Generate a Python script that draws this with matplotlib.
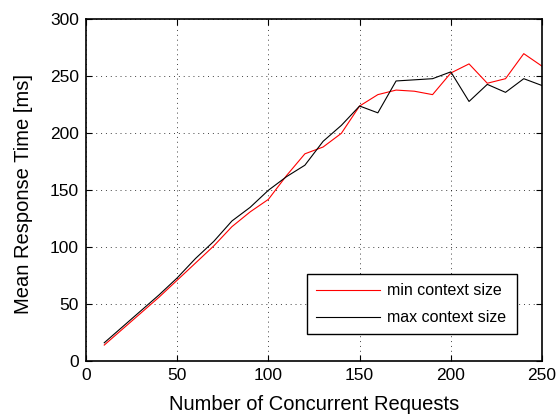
import matplotlib
matplotlib.use("Agg")
import matplotlib.pyplot as plt

plt.rcParams['font.family'] = ['Liberation Sans', 'DejaVu Sans']

requests = [10, 20, 30, 40, 50, 60, 70, 80, 90, 100, 110, 120, 130,
            140, 150, 160, 170, 180, 190, 200, 210, 220, 230, 240, 250]
min_ctx = [14, 28, 42, 56, 71, 86, 101, 118, 131, 142, 163, 182, 188,
           200, 224, 234, 238, 237, 234, 253, 261, 244, 248, 270, 259]
max_ctx = [16, 30, 44, 58, 73, 90, 105, 123, 135, 150, 162, 172, 193,
           207, 224, 218, 246, 247, 248, 254, 228, 243, 236, 248, 242]

xticks = [0, 50, 100, 150, 200, 250]
yticks = [0, 50, 100, 150, 200, 250, 300]

fig = plt.figure(figsize=(5.57, 4.17), dpi=100)
ax = fig.add_axes([86/557, (417-361)/417, (542-86)/557, (361-19.5)/417])

ax.plot(requests, min_ctx, color='#ff0000', lw=0.8, label='min context size')
ax.plot(requests, max_ctx, color='black', lw=0.8, label='max context size')

ax.set_xlim(0, 250)
ax.set_ylim(0, 300)
ax.set_xticks(xticks)
ax.set_yticks(yticks)
ax.tick_params(direction='in', top=True, right=True, labelsize=12.5, length=4, width=0.8, pad=5)
ax.grid(True, linestyle=(0, (1, 4)), color='black', linewidth=0.7, alpha=0.75)
for s in ax.spines.values():
    s.set_linewidth(1.2)

ax.set_xlabel('Number of Concurrent Requests', fontsize=14.5, va='center')
ax.set_ylabel('Mean Response Time [ms]', fontsize=14.5, va='center')
ax.xaxis.set_label_coords((314 - 86) / 456, -(405 - 361) / 341.5)
ax.yaxis.set_label_coords(-(86 - 24) / 456, (361 - 194) / 341.5)

leg = ax.legend(loc='lower left', bbox_to_anchor=((307-86)/456, (361-334)/341.5, (517-307)/456, (334-270)/341.5),
                mode='expand', fontsize=11.5, fancybox=False, framealpha=1, edgecolor='black',
                handlelength=4.0, borderaxespad=0, borderpad=0.55, labelspacing=0.75, handletextpad=0.45)
leg.get_frame().set_linewidth(1.0)

fig.savefig('out.png', dpi=100)
